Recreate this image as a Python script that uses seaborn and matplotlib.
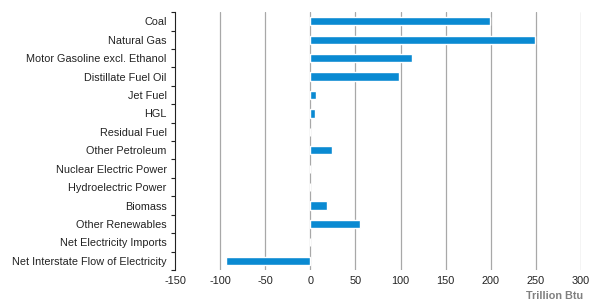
import numpy as np
import pandas as pd
import matplotlib

matplotlib.use("Agg")
import matplotlib.pyplot as plt
import seaborn as sns

categories = [
    "Coal",
    "Natural Gas",
    "Motor Gasoline excl. Ethanol",
    "Distillate Fuel Oil",
    "Jet Fuel",
    "HGL",
    "Residual Fuel",
    "Other Petroleum",
    "Nuclear Electric Power",
    "Hydroelectric Power",
    "Biomass",
    "Other Renewables",
    "Net Electricity Imports",
    "Net Interstate Flow of Electricity",
]
values = [199, 249, 113, 98, 6, 5, 0, 24, 0, 0, 18, 55, 0, -93]
x_ticks = [-150, -100, -50, 0, 50, 100, 150, 200, 250, 300]

df = pd.DataFrame({"source": categories, "trillion_btu": values})

sns.set_style("white")
plt.rcParams["font.family"] = ["Liberation Sans", "DejaVu Sans"]

fig = plt.figure(figsize=(5.98, 3.03), dpi=100)
ax = fig.add_axes([0.2926, 0.109, 0.679, 0.851])

sns.barplot(data=df, x="trillion_btu", y="source", orient="h",
            color="#0a8ad2", saturation=1, width=0.45, ax=ax)

ax.set_xlim(-150, 300)
ax.set_xticks(x_ticks)
ax.set_xticklabels([str(t) for t in x_ticks], fontsize=7.8, color="#222222")
ax.set_ylim(len(categories) - 0.5, -0.5)
ax.tick_params(axis="y", length=0, labelsize=7.8, labelcolor="#222222", pad=6)
ax.tick_params(axis="x", length=0, pad=4)
# tick marks between categories on the left spine
ax.set_yticks(np.arange(-0.5, len(categories)), minor=True)
ax.tick_params(axis="y", which="minor", left=True, length=3, width=0.8,
               color="#222222", direction="out")
ax.set_xlabel("")
ax.set_ylabel("")

for t in x_ticks[1:]:
    ax.axvline(t, color="#a8a8a8", lw=0.9, zorder=0)

for side in ["top", "right", "bottom"]:
    ax.spines[side].set_visible(False)
ax.spines["left"].set_color("#222222")
ax.spines["left"].set_linewidth(0.8)

fig.text(0.975, 0.008, "Trillion Btu", ha="right", va="bottom",
         fontsize=7.8, fontweight="bold", color="#808080")

fig.savefig("out.png", dpi=100)
plt.close(fig)
